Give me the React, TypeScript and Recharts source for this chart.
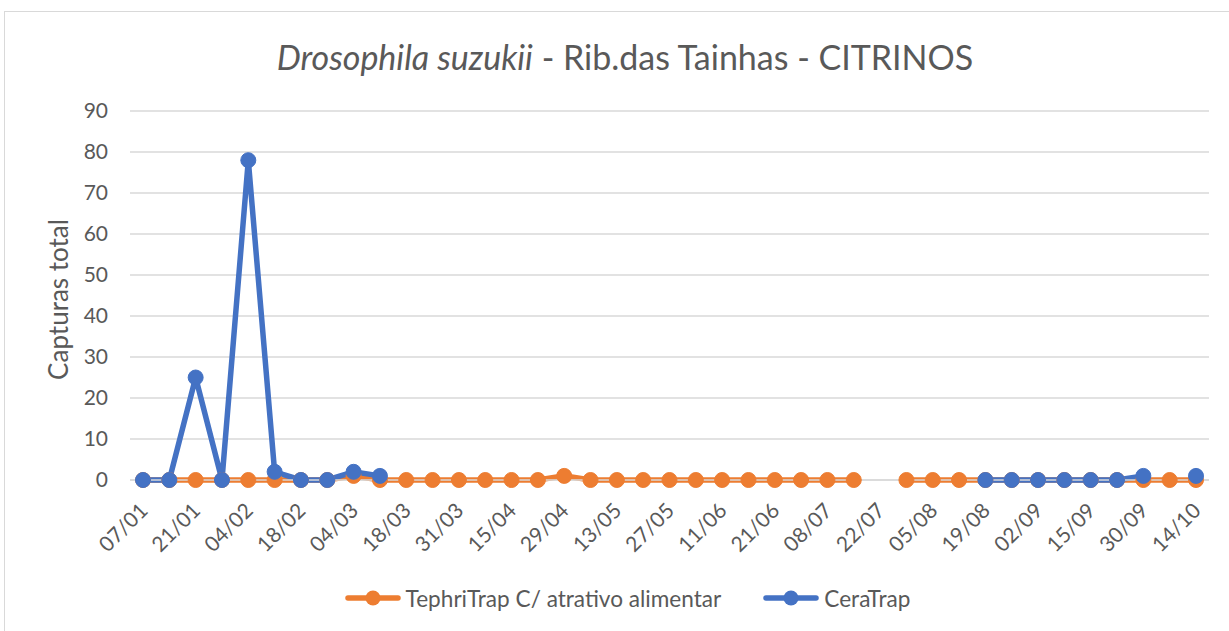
import { CartesianGrid, Legend, Line, LineChart, XAxis, YAxis } from "recharts";

const dates = [
  "07/01", "14/01", "21/01", "28/01", "04/02", "11/02", "18/02", "25/02", "04/03", "11/03",
  "18/03", "25/03", "31/03", "07/04", "15/04", "22/04", "29/04", "06/05", "13/05", "20/05",
  "27/05", "03/06", "11/06", "16/06", "21/06", "28/06", "08/07", "15/07", "22/07", "29/07",
  "05/08", "12/08", "19/08", "26/08", "02/09", "09/09", "15/09", "22/09", "30/09", "07/10",
  "14/10",
];

const tephriTrap: (number | null)[] = [
  0, 0, 0, 0, 0, 0, 0, 0, 1, 0,
  0, 0, 0, 0, 0, 0, 1, 0, 0, 0,
  0, 0, 0, 0, 0, 0, 0, 0, null, 0,
  0, 0, 0, 0, 0, 0, 0, 0, 0, 0,
  0,
];

const ceraTrap: (number | null)[] = [
  0, 0, 25, 0, 78, 2, 0, 0, 2, 1,
  null, null, null, null, null, null, null, null, null, null,
  null, null, null, null, null, null, null, null, null, null,
  null, null, 0, 0, 0, 0, 0, 0, 1, null,
  1,
];

const yTicks = [0, 10, 20, 30, 40, 50, 60, 70, 80, 90];

const ORANGE = "#ED7D31";
const BLUE = "#4472C4";
const TEXT = "#595959";
const FONT = "Lato, 'Open Sans', sans-serif";

const data = dates.map((d, i) => ({ date: d, tephri: tephriTrap[i], cera: ceraTrap[i] }));

const DateTick = (props: any) => {
  const { x, y, payload } = props;
  const ax = x + 6;
  const ay = y + 24;
  return (
    <text x={ax} y={ay} transform={`rotate(-45 ${ax} ${ay})`} textAnchor="end" fill={TEXT} fontSize={21} fontFamily={FONT}>
      {payload.value}
    </text>
  );
};

const legendItems = [
  { name: "TephriTrap C/ atrativo alimentar", color: ORANGE },
  { name: "CeraTrap", color: BLUE },
];

const renderLegend = () => (
  <div style={{ display: "flex", justifyContent: "center", alignItems: "center", height: 30, gap: 42, paddingLeft: 46 }}>
    {legendItems.map((it) => (
      <div key={it.name} style={{ display: "flex", alignItems: "center" }}>
        <svg width={56} height={20}>
          <line x1={3} y1={10} x2={53} y2={10} stroke={it.color} strokeWidth={5.5} strokeLinecap="round" />
          <circle cx={28} cy={10} r={7.5} fill={it.color} />
        </svg>
        <span style={{ marginLeft: 5, fontSize: 22.6, color: TEXT, fontFamily: FONT }}>{it.name}</span>
      </div>
    ))}
  </div>
);

export default function App() {
  return (
    <div style={{ position: "absolute", left: 0, top: 0, width: 1229, height: 631, background: "#fff", overflow: "hidden" }}>
      <div style={{ position: "absolute", left: 4, top: 11, width: 1240, height: 640, border: "1.5px solid #d9d9d9", boxSizing: "border-box" }} />
      <div style={{ position: "absolute", left: 0, top: 36, width: 1250, textAlign: "center", fontSize: 34, lineHeight: "42px", color: TEXT, fontFamily: FONT }}>
        <i>Drosophila suzukii</i> - Rib.das Tainhas - CITRINOS
      </div>
      <LineChart width={1229} height={631} data={data} margin={{ top: 111, right: 20, bottom: 10, left: 0 }} style={{ position: "absolute", left: 0, top: 0 }}>
        <CartesianGrid vertical={false} stroke="#d9d9d9" strokeWidth={1.5} />
        <XAxis
          dataKey="date"
          interval={1}
          tick={<DateTick />}
          tickLine={false}
          axisLine={{ stroke: "#d9d9d9", strokeWidth: 1.5 }}
          height={111}
          padding={{ left: 13, right: 13 }}
        />
        <YAxis
          domain={[0, 90]}
          ticks={yTicks}
          width={130}
          tickLine={false}
          axisLine={false}
          tickMargin={16}
          tick={{ fill: TEXT, fontSize: 21, fontFamily: FONT }}
          label={{ value: "Capturas total", angle: -90, position: "center", dx: -6, dy: 4, style: { fill: TEXT, fontSize: 26, fontFamily: FONT } }}
        />
        <Legend verticalAlign="bottom" content={renderLegend} wrapperStyle={{ bottom: 18 }} />
        <Line
          dataKey="tephri"
          name="TephriTrap C/ atrativo alimentar"
          stroke={ORANGE}
          strokeWidth={5.5}
          dot={{ r: 7.5, fill: ORANGE, stroke: ORANGE, strokeWidth: 1 }}
          activeDot={false}
          isAnimationActive={false}
        />
        <Line
          dataKey="cera"
          name="CeraTrap"
          stroke={BLUE}
          strokeWidth={5.5}
          dot={{ r: 7.5, fill: BLUE, stroke: BLUE, strokeWidth: 1 }}
          activeDot={false}
          isAnimationActive={false}
        />
      </LineChart>
    </div>
  );
}
